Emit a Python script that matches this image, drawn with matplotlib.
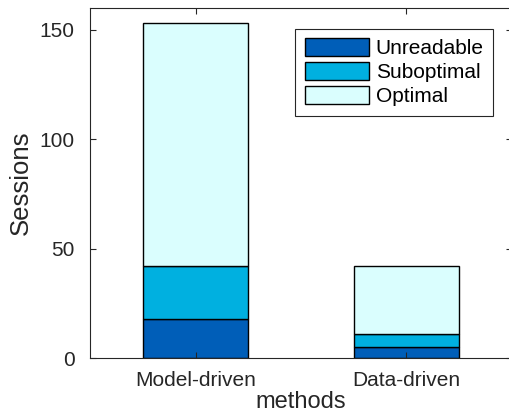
import numpy as np
import matplotlib.pyplot as plt

plt.rcParams['font.family'] = ['Liberation Sans', 'DejaVu Sans']

methods = ['Model-driven', 'Data-driven']
unreadable = [18, 5]
suboptimal = [24, 6]
optimal = [111, 31]
series_names = ['Unreadable', 'Suboptimal', 'Optimal']
colors = ['#005eb8', '#00b0e0', '#dafefe']

fig = plt.figure(figsize=(5.1, 4.2), dpi=100)
ax = fig.add_axes([90 / 510, 62 / 420, (512 - 90) / 510, 350 / 420])

x = np.arange(1, len(methods) + 1)
bottom = np.zeros(len(methods))
for vals, name, col in zip([unreadable, suboptimal, optimal], series_names, colors):
    ax.bar(x, vals, width=0.5, bottom=bottom, color=col, edgecolor='black',
           linewidth=1.0, label=name)
    bottom += np.array(vals)

ax.set_xlim(0.5, 2.5)
ax.set_ylim(0, 160)
ax.set_xticks(x)
ax.set_xticklabels(methods)
ax.set_yticks([0, 50, 100, 150])
ax.set_xlabel('methods', fontsize=17, color='#262626', labelpad=1)
ax.set_ylabel('Sessions', fontsize=18.5, color='#262626', labelpad=5)
ax.tick_params(direction='in', top=True, right=True, labelsize=15,
               colors='#262626', length=4)
ax.tick_params(axis='x', pad=9)
ax.tick_params(axis='y', pad=11)
for s in ax.spines.values():
    s.set_color('#262626')
    s.set_linewidth(0.8)

leg = ax.legend(loc='upper right', bbox_to_anchor=(0.955, 0.94),
                fontsize=15, fancybox=False, edgecolor='#262626', framealpha=1,
                handlelength=3.1, handleheight=0.9, labelspacing=0.2,
                borderpad=0.45, handletextpad=0.3, borderaxespad=0)
leg.get_frame().set_linewidth(0.8)

fig.savefig('out.png', dpi=100)
